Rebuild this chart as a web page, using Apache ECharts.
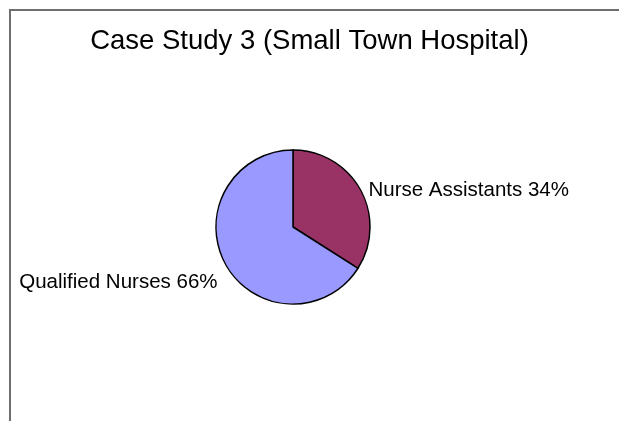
<!DOCTYPE html>
<html>
<head>
<meta charset="utf-8">
<script src="https://cdn.jsdelivr.net/npm/echarts@6/dist/echarts.min.js"></script>
<style>
html,body{margin:0;padding:0;background:#fff;overflow:hidden;}
#chart{position:absolute;left:0;top:0;width:619px;height:421px;}
#frame{position:absolute;left:9px;top:9px;width:608px;height:410px;border-top:2px solid #6e6e6e;border-left:2px solid #6e6e6e;pointer-events:none;}
</style>
</head>
<body>
<div id="chart"></div>
<div id="frame"></div>
<script>
const titleText = 'Case Study 3 (Small Town Hospital)';
const categories = ['Nurse Assistants', 'Qualified Nurses'];
const values = [34, 66];
const colors = ['#993366', '#9999FF'];

const chart = echarts.init(document.getElementById('chart'), null, {renderer: 'canvas'});
chart.setOption({
  backgroundColor: '#ffffff',
  animation: false,
  title: {
    text: titleText,
    left: 'center',
    top: 22,
    textStyle: {fontFamily: 'Liberation Sans, Arial, sans-serif', fontSize: 27.5, fontWeight: 'normal', color: '#000'}
  },
  series: [{
    type: 'pie',
    center: [293, 227],
    radius: 77,
    startAngle: 90,
    clockwise: true,
    avoidLabelOverlap: false,
    data: categories.map((c, i) => ({name: c, value: values[i], itemStyle: {color: colors[i]}})),
    itemStyle: {borderColor: '#000', borderWidth: 1.5},
    label: {
      show: true,
      position: 'outside',
      formatter: p => p.name + ' ' + p.value + '%',
      fontFamily: 'Liberation Sans, Arial, sans-serif',
      fontSize: 20.5,
      color: '#000',
      distanceToLabelLine: 8
    },
    labelLine: {show: false, length: 0, length2: 0},
    labelLayout: p => (p.dataIndex === 1 ? {dy: 18} : {}),
    emphasis: {disabled: true}
  }]
});
</script>
</body>
</html>
